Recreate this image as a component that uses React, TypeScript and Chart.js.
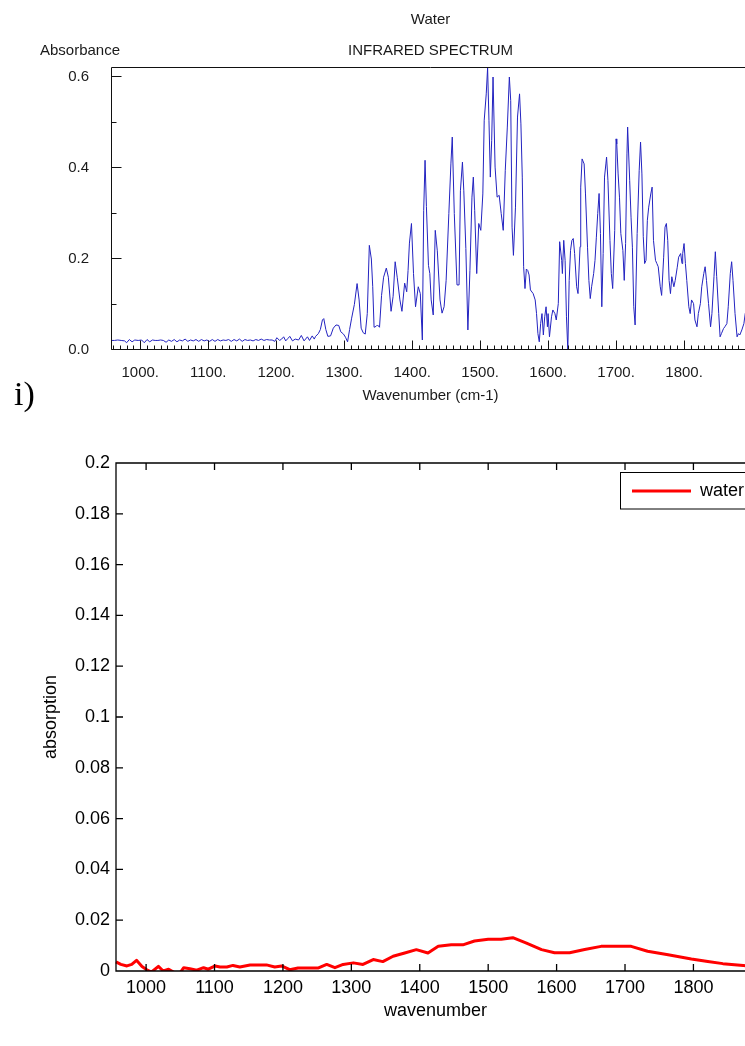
import React, { useEffect, useRef } from 'react';
import { Chart, registerables } from 'chart.js';

Chart.register(...registerables);

const SANS = '"Liberation Sans", Arial, Helvetica, sans-serif';

// ---------- Top chart: infrared spectrum ----------
const IR_SUPTITLE = 'Water';
const IR_TITLE = 'INFRARED SPECTRUM';
const IR_Y_LABEL = 'Absorbance';
const IR_X_LABEL = 'Wavenumber (cm-1)';

const IR_WAVENUMBER = [
  957, 962, 967, 972, 977, 980, 984, 988, 992, 997,
  1002, 1006, 1010, 1014, 1018, 1022, 1026, 1030, 1034, 1038,
  1042, 1046, 1050, 1054, 1058, 1062, 1066, 1070, 1074, 1078,
  1082, 1086, 1090, 1094, 1098, 1102, 1106, 1110, 1114, 1118,
  1122, 1126, 1130, 1134, 1138, 1142, 1146, 1150, 1154, 1158,
  1162, 1166, 1170, 1174, 1178, 1182, 1186, 1190, 1194, 1198,
  1201, 1205, 1208, 1211, 1214, 1217, 1220, 1224, 1228, 1233,
  1237, 1241, 1246, 1249, 1253, 1256, 1258, 1262, 1265, 1268,
  1270, 1273, 1276, 1280, 1284, 1288, 1292, 1295, 1299, 1302,
  1305, 1308, 1311, 1315, 1319, 1322, 1325, 1328, 1331, 1334,
  1337, 1340, 1342, 1344, 1347, 1349, 1352, 1355, 1358, 1362,
  1365, 1369, 1372, 1375, 1378, 1382, 1385, 1389, 1392, 1394,
  1396, 1399, 1402, 1405, 1409, 1412, 1415, 1417, 1419, 1421,
  1424, 1426, 1428, 1431, 1434, 1437, 1441, 1444, 1447, 1450,
  1454, 1457, 1459, 1462, 1466, 1469, 1471, 1474, 1476, 1479,
  1482, 1485, 1488, 1490, 1492, 1495, 1498, 1501, 1504, 1506,
  1509, 1511, 1513, 1515, 1517, 1519, 1522, 1525, 1528, 1531,
  1534, 1537, 1540, 1543, 1545, 1547, 1549, 1552, 1555, 1558,
  1560, 1562, 1564, 1566, 1568, 1570, 1572, 1574, 1578, 1581,
  1583, 1585, 1587, 1589, 1591, 1593, 1595, 1597, 1599, 1600,
  1602, 1605, 1607, 1610, 1612, 1615, 1617, 1620, 1621, 1623,
  1625, 1627, 1629, 1631, 1633, 1635, 1637, 1639, 1642, 1644,
  1647, 1648, 1650, 1653, 1655, 1658, 1660, 1662, 1664, 1667,
  1669, 1671, 1673, 1675, 1677, 1679, 1681, 1683, 1685, 1686,
  1688, 1691, 1693, 1695, 1698, 1700, 1701, 1703, 1705, 1707,
  1710, 1712, 1714, 1716, 1717, 1720, 1722, 1724, 1726, 1728,
  1731, 1734, 1736, 1738, 1740, 1742, 1744, 1746, 1748, 1751,
  1753, 1755, 1758, 1760, 1762, 1765, 1767, 1770, 1772, 1774,
  1776, 1778, 1780, 1782, 1785, 1787, 1790, 1792, 1795, 1797,
  1798, 1800, 1802, 1804, 1807, 1809, 1811, 1814, 1816, 1819,
  1821, 1824, 1826, 1829, 1831, 1833, 1836, 1839, 1841, 1844,
  1846, 1848, 1851, 1853, 1855, 1858, 1860, 1863, 1865, 1868,
  1870, 1872, 1875, 1878, 1880, 1882, 1885, 1888, 1890, 1894,
];

const IR_ABSORBANCE = [
  0.021, 0.021, 0.022, 0.021, 0.020, 0.016, 0.023, 0.018, 0.022, 0.021,
  0.022, 0.016, 0.023, 0.018, 0.022, 0.021, 0.021, 0.022, 0.021, 0.017,
  0.022, 0.019, 0.023, 0.018, 0.022, 0.020, 0.024, 0.019, 0.022, 0.020,
  0.023, 0.019, 0.023, 0.020, 0.022, 0.019, 0.023, 0.019, 0.023, 0.020,
  0.022, 0.021, 0.023, 0.019, 0.023, 0.020, 0.024, 0.019, 0.023, 0.021,
  0.022, 0.020, 0.023, 0.021, 0.024, 0.021, 0.023, 0.022, 0.022, 0.019,
  0.027, 0.021, 0.024, 0.029, 0.020, 0.025, 0.030, 0.020, 0.024, 0.022,
  0.032, 0.020, 0.029, 0.021, 0.031, 0.024, 0.030, 0.036, 0.045, 0.066,
  0.069, 0.045, 0.030, 0.031, 0.048, 0.055, 0.054, 0.040, 0.035, 0.028,
  0.018, 0.045, 0.070, 0.100, 0.146, 0.110, 0.048, 0.038, 0.035, 0.080,
  0.230, 0.200, 0.140, 0.050, 0.052, 0.055, 0.050, 0.120, 0.160, 0.180,
  0.160, 0.085, 0.118, 0.194, 0.160, 0.110, 0.085, 0.147, 0.128, 0.175,
  0.235, 0.278, 0.168, 0.095, 0.139, 0.124, 0.022, 0.307, 0.417, 0.315,
  0.186, 0.168, 0.110, 0.077, 0.263, 0.218, 0.110, 0.081, 0.095, 0.153,
  0.300, 0.409, 0.468, 0.300, 0.143, 0.143, 0.350, 0.413, 0.350, 0.223,
  0.044, 0.175, 0.336, 0.380, 0.307, 0.168, 0.278, 0.263, 0.343, 0.505,
  0.563, 0.620, 0.505, 0.380, 0.460, 0.600, 0.402, 0.336, 0.340, 0.300,
  0.263, 0.395, 0.490, 0.600, 0.548, 0.270, 0.208, 0.314, 0.512, 0.563,
  0.497, 0.380, 0.183, 0.135, 0.178, 0.175, 0.165, 0.132, 0.124, 0.110,
  0.080, 0.036, 0.018, 0.058, 0.080, 0.033, 0.073, 0.095, 0.051, 0.080,
  0.029, 0.073, 0.088, 0.080, 0.066, 0.102, 0.238, 0.197, 0.168, 0.241,
  0.197, 0.073, 0.000, 0.153, 0.219, 0.241, 0.245, 0.212, 0.139, 0.124,
  0.227, 0.358, 0.420, 0.409, 0.343, 0.226, 0.153, 0.113, 0.139, 0.168,
  0.197, 0.248, 0.300, 0.344, 0.256, 0.095, 0.212, 0.380, 0.409, 0.424,
  0.373, 0.241, 0.168, 0.135, 0.263, 0.464, 0.453, 0.387, 0.336, 0.256,
  0.219, 0.153, 0.234, 0.431, 0.490, 0.373, 0.292, 0.226, 0.095, 0.055,
  0.256, 0.395, 0.457, 0.387, 0.249, 0.190, 0.197, 0.285, 0.314, 0.343,
  0.358, 0.241, 0.197, 0.190, 0.183, 0.139, 0.120, 0.204, 0.270, 0.278,
  0.241, 0.153, 0.124, 0.161, 0.139, 0.153, 0.182, 0.204, 0.212, 0.190,
  0.212, 0.234, 0.190, 0.153, 0.095, 0.080, 0.110, 0.102, 0.066, 0.051,
  0.080, 0.102, 0.139, 0.168, 0.183, 0.153, 0.102, 0.051, 0.080, 0.161,
  0.216, 0.161, 0.080, 0.029, 0.036, 0.047, 0.051, 0.058, 0.095, 0.168,
  0.194, 0.153, 0.080, 0.029, 0.036, 0.033, 0.044, 0.058, 0.080, 0.100,
];

const IR_X_TICKS = [1000, 1100, 1200, 1300, 1400, 1500, 1600, 1700, 1800];
const IR_X_MINOR_START = 960;
const IR_X_MINOR_STEP = 10;
const IR_Y_TICKS = [0, 0.2, 0.4, 0.6];
const IR_Y_MINOR = [0.1, 0.3, 0.5];

// ---------- Bottom chart: water absorption ----------
const WATER_LABEL = 'water';
const WATER_X_LABEL = 'wavenumber';
const WATER_Y_LABEL = 'absorption';

const WATER_WAVENUMBER = [
  956, 963, 972, 979, 986, 994, 1001, 1008, 1018, 1025,
  1033, 1040, 1044, 1050, 1055, 1064, 1074, 1084, 1091, 1101,
  1108, 1118, 1127, 1137, 1152, 1166, 1176, 1188, 1198, 1210,
  1222, 1239, 1252, 1264, 1276, 1288, 1303, 1317, 1332, 1346,
  1361, 1378, 1395, 1412, 1427, 1446, 1463, 1480, 1500, 1519,
  1536, 1556, 1578, 1597, 1619, 1641, 1665, 1687, 1709, 1733,
  1763, 1797, 1821, 1843, 1877, 1890,
];

const WATER_ABSORPTION = [
  0.0036, 0.0026, 0.0020, 0.0026, 0.0042, 0.0018, 0.0005, -0.0004, 0.0018, 0.0000,
  0.0007, -0.0004, -0.0010, -0.0006, 0.0013, 0.0009, 0.0003, 0.0013, 0.0007, 0.0020,
  0.0016, 0.0016, 0.0022, 0.0016, 0.0024, 0.0024, 0.0024, 0.0016, 0.0020, 0.0005,
  0.0012, 0.0012, 0.0012, 0.0026, 0.0013, 0.0026, 0.0032, 0.0026, 0.0045, 0.0037,
  0.0058, 0.0071, 0.0084, 0.0071, 0.0097, 0.0103, 0.0103, 0.0118, 0.0125, 0.0125,
  0.0131, 0.0110, 0.0084, 0.0072, 0.0072, 0.0085, 0.0097, 0.0097, 0.0097, 0.0078,
  0.0064, 0.0047, 0.0037, 0.0029, 0.0021, 0.0019,
];

const WATER_X_TICKS = [1000, 1100, 1200, 1300, 1400, 1500, 1600, 1700, 1800];
const WATER_Y_TICKS = [0, 0.02, 0.04, 0.06, 0.08, 0.1, 0.12, 0.14, 0.16, 0.18, 0.2];

// ---------- plugins ----------
const irFrame = {
  id: 'irFrame',
  afterDatasetsDraw(chart: any) {
    const { ctx, chartArea: a } = chart;
    const xs = chart.scales.x;
    const ys = chart.scales.y;
    const L = Math.round(a.left) + 0.5;
    const T = Math.round(a.top) + 0.5;
    const B = Math.round(a.bottom) - 0.5;
    const R = Math.round(a.right) - 0.5;
    ctx.save();
    ctx.strokeStyle = '#111';
    ctx.lineWidth = 1;
    ctx.beginPath();
    ctx.moveTo(L, B);
    ctx.lineTo(L, T);
    ctx.lineTo(R, T);
    ctx.lineTo(R, B);
    ctx.lineTo(L, B);
    for (let v = IR_X_MINOR_START; v <= xs.max; v += IR_X_MINOR_STEP) {
      const px = Math.round(xs.getPixelForValue(v)) + 0.5;
      const len = IR_X_TICKS.includes(v) ? 9 : 4;
      ctx.moveTo(px, B);
      ctx.lineTo(px, B - len);
    }
    IR_Y_TICKS.forEach((v) => {
      const py = Math.round(ys.getPixelForValue(v)) - 0.5;
      ctx.moveTo(L, py);
      ctx.lineTo(L + 10, py);
    });
    IR_Y_MINOR.forEach((v) => {
      const py = Math.round(ys.getPixelForValue(v)) - 0.5;
      ctx.moveTo(L, py);
      ctx.lineTo(L + 5, py);
    });
    ctx.stroke();

    ctx.fillStyle = '#1a1a1a';
    ctx.font = `15px ${SANS}`;
    ctx.textAlign = 'center';
    ctx.textBaseline = 'middle';
    const cx = (a.left + a.right) / 2;
    ctx.fillText(IR_SUPTITLE, cx, 20);
    ctx.fillText(IR_TITLE, cx, 51);
    ctx.fillText(IR_Y_LABEL, 80, 51);
    ctx.restore();
  },
};

const waterFrame = {
  id: 'waterFrame',
  afterDatasetsDraw(chart: any) {
    const { ctx, chartArea: a } = chart;
    const xs = chart.scales.x;
    const ys = chart.scales.y;
    ctx.save();
    ctx.strokeStyle = '#000';
    ctx.lineWidth = 1.3;
    ctx.beginPath();
    ctx.rect(a.left, a.top, a.right - a.left, a.bottom - a.top);
    WATER_X_TICKS.forEach((v) => {
      const px = xs.getPixelForValue(v);
      ctx.moveTo(px, a.bottom);
      ctx.lineTo(px, a.bottom - 7);
      ctx.moveTo(px, a.top);
      ctx.lineTo(px, a.top + 7);
    });
    WATER_Y_TICKS.forEach((v) => {
      const py = ys.getPixelForValue(v);
      ctx.moveTo(a.left, py);
      ctx.lineTo(a.left + 7, py);
      ctx.moveTo(a.right, py);
      ctx.lineTo(a.right - 7, py);
    });
    ctx.stroke();

    // legend box
    const ds = chart.data.datasets[0];
    ctx.fillStyle = '#fff';
    ctx.fillRect(620.5, 32.5, 140, 36.5);
    ctx.lineWidth = 1;
    ctx.strokeStyle = '#000';
    ctx.strokeRect(620.5, 32.5, 140, 36.5);
    ctx.beginPath();
    ctx.strokeStyle = ds.borderColor;
    ctx.lineWidth = 3;
    ctx.moveTo(632, 51);
    ctx.lineTo(691, 51);
    ctx.stroke();
    ctx.fillStyle = '#000';
    ctx.font = `18px ${SANS}`;
    ctx.textAlign = 'left';
    ctx.textBaseline = 'alphabetic';
    ctx.fillText(ds.label, 700, 56);
    ctx.restore();
  },
};

export default function App() {
  const topRef = useRef<HTMLCanvasElement>(null);
  const botRef = useRef<HTMLCanvasElement>(null);

  useEffect(() => {
    const irPoints = IR_WAVENUMBER.map((x, i) => ({ x, y: IR_ABSORBANCE[i] }));
    const waterPoints = WATER_WAVENUMBER.map((x, i) => ({ x, y: WATER_ABSORPTION[i] }));

    const top = new Chart(topRef.current as HTMLCanvasElement, {
      type: 'line',
      data: {
        datasets: [
          {
            label: IR_TITLE,
            data: irPoints,
            borderColor: '#2323c0',
            borderWidth: 1,
            pointRadius: 0,
            tension: 0,
            fill: false,
          },
        ],
      },
      options: {
        animation: false,
        responsive: false,
        devicePixelRatio: 1,
        layout: { padding: { top: 67, left: 0, right: 0, bottom: 0 } },
        plugins: { legend: { display: false }, tooltip: { enabled: false }, title: { display: false } },
        scales: {
          x: {
            type: 'linear',
            min: 957,
            max: 1897,
            grid: { display: false, drawTicks: false },
            border: { display: false },
            afterBuildTicks: (s: any) => {
              s.ticks = IR_X_TICKS.map((v) => ({ value: v }));
            },
            afterFit: (s: any) => {
              s.height = 60;
            },
            ticks: {
              padding: 13.5,
              autoSkip: false,
              maxRotation: 0,
              color: '#1a1a1a',
              font: { family: SANS, size: 15 },
              callback: (v: any) => `${v}.`,
            },
            title: {
              display: true,
              text: IR_X_LABEL,
              color: '#1a1a1a',
              font: { family: SANS, size: 15 },
              padding: { top: 0, bottom: 5 },
            },
          },
          y: {
            type: 'linear',
            min: 0,
            max: 0.622,
            grid: { display: false, drawTicks: false },
            border: { display: false },
            afterBuildTicks: (s: any) => {
              s.ticks = IR_Y_TICKS.map((v) => ({ value: v }));
            },
            afterFit: (s: any) => {
              s.width = 111;
            },
            ticks: {
              padding: 22,
              autoSkip: false,
              color: '#1a1a1a',
              font: { family: SANS, size: 15 },
              callback: (v: any) => Number(v).toFixed(1),
            },
          },
        },
      },
      plugins: [irFrame],
    });

    const bottom = new Chart(botRef.current as HTMLCanvasElement, {
      type: 'line',
      data: {
        datasets: [
          {
            label: WATER_LABEL,
            data: waterPoints,
            borderColor: '#ff0000',
            borderWidth: 3,
            pointRadius: 0,
            tension: 0,
            fill: false,
            borderJoinStyle: 'round',
            clip: { left: 3, right: 3, top: 3, bottom: 0 },
          } as any,
        ],
      },
      options: {
        animation: false,
        responsive: false,
        devicePixelRatio: 1,
        layout: { padding: { top: 23, left: 0, right: 0, bottom: 0 } },
        plugins: { legend: { display: false }, tooltip: { enabled: false }, title: { display: false } },
        scales: {
          x: {
            type: 'linear',
            min: 956,
            max: 1890,
            grid: { display: false, drawTicks: false },
            border: { display: false },
            afterBuildTicks: (s: any) => {
              s.ticks = WATER_X_TICKS.map((v) => ({ value: v }));
            },
            afterFit: (s: any) => {
              s.height = 75;
            },
            ticks: {
              padding: 6,
              autoSkip: false,
              maxRotation: 0,
              color: '#000',
              font: { family: SANS, size: 18 },
              callback: (v: any) => String(v),
            },
            title: {
              display: true,
              text: WATER_X_LABEL,
              color: '#000',
              font: { family: SANS, size: 18 },
              padding: { top: 0, bottom: 24 },
            },
          },
          y: {
            type: 'linear',
            min: 0,
            max: 0.2,
            grid: { display: false, drawTicks: false },
            border: { display: false },
            afterBuildTicks: (s: any) => {
              s.ticks = WATER_Y_TICKS.map((v) => ({ value: v }));
            },
            afterFit: (s: any) => {
              s.width = 116;
            },
            ticks: {
              padding: 6,
              autoSkip: false,
              color: '#000',
              font: { family: SANS, size: 18 },
              callback: (v: any) => String(v),
            },
            title: {
              display: true,
              text: WATER_Y_LABEL,
              color: '#000',
              font: { family: SANS, size: 18 },
              padding: { top: 40, bottom: 0 },
            },
          },
        },
      },
      plugins: [waterFrame],
    });

    return () => {
      top.destroy();
      bottom.destroy();
    };
  }, []);

  return (
    <div
      style={{
        position: 'absolute',
        left: 0,
        top: 0,
        width: 745,
        height: 1046,
        overflow: 'hidden',
        background: '#fff',
      }}
    >
      <canvas ref={topRef} width={750} height={410} style={{ position: 'absolute', left: 0, top: 0 }} />
      <div
        style={{
          position: 'absolute',
          left: 14,
          top: 377,
          fontFamily: '"Liberation Serif", "Times New Roman", serif',
          fontSize: 34,
          lineHeight: '34px',
          color: '#000',
        }}
      >
        i)
      </div>
      <canvas ref={botRef} width={755} height={606} style={{ position: 'absolute', left: 0, top: 440 }} />
    </div>
  );
}
